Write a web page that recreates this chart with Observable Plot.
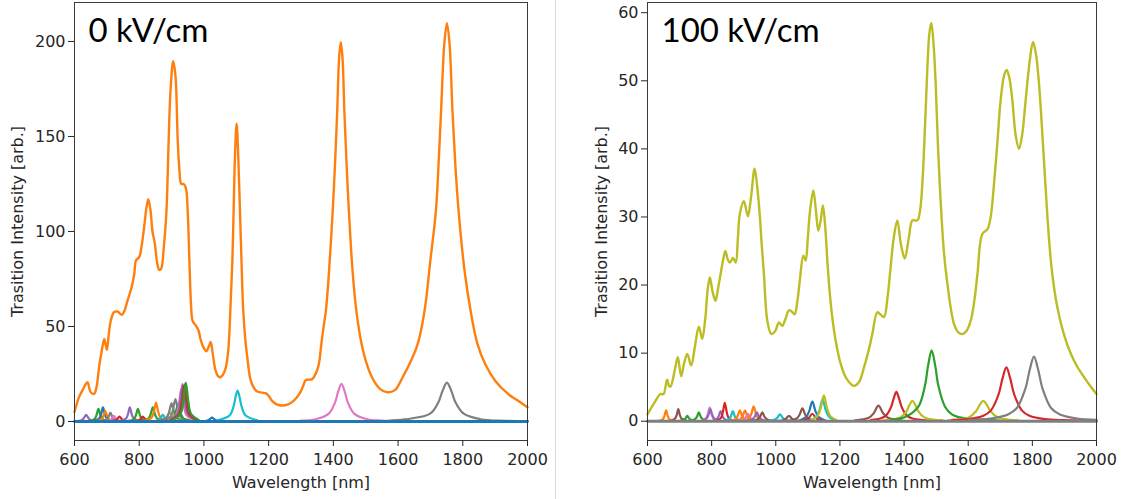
<!DOCTYPE html>
<html>
<head>
<meta charset="utf-8">
<script src="https://cdn.jsdelivr.net/npm/d3@7"></script>
<script src="https://cdn.jsdelivr.net/npm/@observablehq/plot@0.6"></script>
<style>
  html, body { margin: 0; padding: 0; background: #fff; }
  #wrap { position: relative; width: 1125px; height: 499px; overflow: hidden; background: #fff; }
  #left, #right { position: absolute; top: 0; }
  #left { left: 0; }
  #right { left: 556px; }
  #sep { position: absolute; left: 555px; top: 0; width: 1px; height: 499px; background: #d9d9d9; }
</style>
</head>
<body>
<div id="wrap"><div id="left"></div><div id="right"></div><div id="sep"></div></div>
<script>
// ---------- labels & ticks ----------
const panelTitles = ["0 kV/cm", "100 kV/cm"];
const xLabel = "Wavelength [nm]";
const yLabel = "Trasition Intensity [arb.]";
const xTicks = [600, 800, 1000, 1200, 1400, 1600, 1800, 2000];
const leftYTicks = [0, 50, 100, 150, 200];
const rightYTicks = [0, 10, 20, 30, 40, 50, 60];
const cycleNames = ["C0","C1","C2","C3","C4","C5","C6","C7","C8","C9"];
const tab10 = ["#1f77b4","#ff7f0e","#2ca02c","#d62728","#9467bd","#8c564b","#e377c2","#7f7f7f","#bcbd22","#17becf"];

// ---------- 0 kV/cm panel ----------
const left_total = [[600,5],[614,12.8],[628,17.5],[640,20.7],[650,15.4],[661,14.6],[668,18],[676,28.6],[685,38],[692,43.5],[700,37.7],[706,46],[712,53],[722,57.5],[733,57.9],[746,56.1],[755,58.5],[764,63.7],[772,68],[779,72.5],[785,78],[790,84.7],[800,86.5],[808,93],[815,102],[822,112],[828,117],[835,111],[841,100],[848,94],[856,83],[862,79.8],[868,80.5],[876,91.7],[884,110],[891,147.9],[897,175],[905,189.6],[912,182],[919,147.9],[924,133],[930,125],[937,125],[944,123],[950,110],[955,85],[960,62],[965,53],[975,50.5],[983,48],[990,43],[1000,38.5],[1008,37],[1015,39.5],[1021,41.8],[1027,36],[1035,27.5],[1043,24],[1050,23.3],[1058,24.5],[1067,28],[1075,37],[1082,60],[1088,85],[1092,112.8],[1096,140],[1101,156.7],[1106,140],[1111,112.8],[1116,85],[1121,60],[1128,43],[1134,33.8],[1144,22],[1155,17.5],[1165,15.8],[1180,15.2],[1192,14.8],[1200,13.5],[1210,11],[1225,9],[1242,8.4],[1260,9],[1278,11],[1295,14.5],[1305,18],[1314,21.6],[1322,22],[1335,22.3],[1345,25],[1355,30],[1363,41],[1370,50],[1377,58.4],[1387,80],[1398,111],[1405,135],[1412,163.7],[1418,192],[1423,199.6],[1428,192],[1434,163.7],[1441,135],[1448,111],[1459,80],[1471,58.4],[1487,41],[1500,32],[1520,23],[1545,17],[1566,15.4],[1590,16.5],[1614,23.3],[1640,32],[1661,41],[1682,58.4],[1700,85],[1717,111],[1725,135],[1733,163.7],[1743,199],[1751,209.6],[1759,199],[1768,163.7],[1777,135],[1787,111],[1805,80],[1824,58.4],[1845,41],[1870,30],[1900,21.5],[1940,14.5],[1970,11],[2000,7.5]];

const left_minor = [
  ["C4", [[601,0.1],[622,0.7],[629,1.8],[636,3.5],[643,1.8],[650,0.7],[671,0.1]]],
  ["C2", [[644,0.3],[662,1.3],[668,3.4],[674,6.7],[680,3.4],[686,1.3],[704,0.3]]],
  ["C0", [[658,0.3],[676,1.5],[682,3.7],[688,7.4],[694,3.7],[700,1.5],[718,0.3]]],
  ["C1", [[665,0.2],[683,1.1],[689,2.8],[695,5.6],[701,2.8],[707,1.1],[725,0.2]]],
  ["C7", [[681,0.2],[699,0.9],[705,2.4],[711,4.7],[717,2.4],[723,0.9],[741,0.2]]],
  ["C6", [[692,0.1],[710,0.6],[716,1.5],[722,3],[728,1.5],[734,0.6],[752,0.1]]],
  ["C3", [[704,0.1],[725,0.5],[732,1.3],[739,2.6],[746,1.3],[753,0.5],[774,0.1]]],
  ["C4", [[741,0.3],[759,1.5],[765,3.7],[771,7.4],[777,3.7],[783,1.5],[801,0.3]]],
  ["C2", [[766,0.3],[784,1.3],[790,3.4],[796,6.7],[802,3.4],[808,1.3],[826,0.3]]],
  ["C3", [[776,0.1],[797,0.5],[804,1.3],[811,2.6],[818,1.3],[825,0.5],[846,0.1]]],
  ["C2", [[807,0.3],[828,1.5],[835,3.7],[842,7.4],[849,3.7],[856,1.5],[877,0.3]]],
  ["C1", [[817,0.4],[838,2],[845,5],[852,10],[859,5],[866,2],[887,0.4]]],
  ["C9", [[838,0.1],[859,0.7],[866,1.8],[873,3.5],[880,1.8],[887,0.7],[908,0.1]]],
  ["C8", [[854,0.2],[878,0.9],[886,2.4],[894,4.7],[902,2.4],[910,0.9],[934,0.2]]],
  ["C7", [[860,0.4],[884,1.9],[892,4.8],[900,9.5],[908,4.8],[916,1.9],[940,0.4]]],
  ["C7", [[872,0.5],[896,2.4],[904,5.9],[912,11.8],[920,5.9],[928,2.4],[952,0.5]]],
  ["C2", [[880,0.4],[904,1.8],[912,4.5],[920,9],[928,4.5],[936,1.8],[960,0.4]]],
  ["C6", [[890,0.7],[914,3.4],[922,8.5],[930,17],[938,8.5],[946,3.4],[970,0.7]]],
  ["C4", [[894,0.8],[918,3.9],[926,9.9],[934,19.7],[942,9.9],[950,3.9],[974,0.8]]],
  ["C5", [[898,0.8],[922,3.8],[930,9.4],[938,18.8],[946,9.4],[954,3.8],[978,0.8]]],
  ["C3", [[901,0.8],[925,3.9],[933,9.8],[941,19.5],[949,9.8],[957,3.9],[981,0.8]]],
  ["C2", [[904,0.8],[928,4.1],[936,10.3],[944,20.5],[952,10.3],[960,4.1],[984,0.8]]],
  ["C0", [[980,0.1],[1007,0.4],[1016,1],[1025,2],[1034,1],[1043,0.4],[1070,0.1]]],
  ["C9", [[1044,0.7],[1080,3.3],[1092,8.2],[1098,13],[1104,16.3],[1110,13],[1116,8.2],[1128,3.3],[1164,0.7]]],
  ["C6", [[1300,0.5],[1345,1.2],[1385,4],[1405,9.9],[1415,15.8],[1425,19.8],[1435,15.8],[1445,9.9],[1465,4],[1505,1.2],[1550,0.5],[1600,0.3]]],
  ["C7", [[1570,0.4],[1620,1.1],[1699,4.1],[1725,10.3],[1738,16.4],[1751,20.5],[1764,16.4],[1777,10.3],[1803,4.1],[1855,1.2],[1930,0.4],[2000,0.2]]]
];
const left_baseline = [[600,0],[2000,0]];

// ---------- 100 kV/cm panel ----------
const right_total = [[600,1.0],[612,2.0],[625,3.0],[640,4.0],[650,4.0],[661,6.1],[667,5.2],[672,5.1],[685,7.5],[694.6,9.4],[705,6.6],[714,8.5],[724,9.9],[736,8.2],[748,11],[760,13.9],[770.6,12.1],[780,15],[788,19.5],[794.5,21.1],[803,19],[812,17.7],[820,19.5],[827.8,21.6],[835,23.5],[843,25],[850,23.8],[857,23.3],[867,24],[875,23.3],[882,27],[888,30.5],[900.6,32.3],[913,30.1],[923,33],[933.9,37.1],[943,34],[950.4,30],[956,26],[963,21.6],[973.5,14.8],[986,12.8],[998,13.2],[1009.7,14.5],[1020,14],[1030,15],[1041,16.3],[1050,16.1],[1058.7,15.7],[1067,17.5],[1075,20.7],[1085.8,24.3],[1093,23.6],[1100,27],[1106.5,30.8],[1117,33.9],[1125,31],[1132.6,28],[1140,29.5],[1147,31.7],[1155,28],[1160.7,23.6],[1168,19],[1176,15.3],[1188,11.5],[1202,8.5],[1220,6.3],[1243.7,5.2],[1260,5.8],[1275,7.9],[1290,10.5],[1301,12.8],[1316.7,16],[1328,15.6],[1337.5,15.3],[1348,18],[1358,22.6],[1368,27],[1379,29.5],[1390,26],[1402,23.9],[1415,27],[1426,29.5],[1441.5,29.5],[1450,31],[1457,34.9],[1465,43],[1472.7,52],[1479,57],[1485,58.5],[1491,56],[1498.6,49.5],[1506,40],[1514,32.4],[1524,25],[1535,20.2],[1555.7,14.3],[1570,13],[1582,12.8],[1595,13.3],[1608,14.8],[1620,18],[1629,21.7],[1644,27.5],[1660,28.2],[1670,30],[1680.5,34.9],[1691,41],[1701,47.1],[1712,50.8],[1720,51.6],[1728,50.5],[1737.7,47.1],[1748,42],[1758.5,40],[1768,42],[1779,47.1],[1792,53],[1802,55.7],[1811,54],[1820.8,49.5],[1834,40],[1847,30],[1860,22.5],[1878,16.7],[1900,12.5],[1920,9.9],[1940,8],[1961,6.5],[1980,5.2],[2000,4.0]];

const right_minor = [
  ["C1", [[638,0.1],[648,0.3],[653,0.8],[658,1.6],[663,0.8],[668,0.3],[683,0.1]]],
  ["C5", [[676,0.1],[686,0.4],[691,0.9],[696,1.8],[701,0.9],[706,0.4],[721,0.1]]],
  ["C2", [[700,0.05],[712,0.2],[718,0.4],[724,0.8],[730,0.4],[736,0.2],[748,0.05]]],
  ["C2", [[736,0.05],[748,0.3],[754,0.65],[760,1.3],[766,0.65],[772,0.3],[784,0.05]]],
  ["C6", [[770,0.1],[782,0.4],[788,1.0],[794,2.0],[800,1.0],[806,0.4],[818,0.1]]],
  ["C4", [[772,0.1],[784,0.4],[790,0.9],[796,1.8],[802,0.9],[808,0.4],[820,0.1]]],
  ["C4", [[804,0.1],[816,0.3],[822,0.75],[828,1.5],[834,0.75],[840,0.3],[852,0.1]]],
  ["C3", [[817,0.1],[829,0.5],[835,1.35],[841,2.7],[847,1.35],[853,0.5],[865,0.1]]],
  ["C9", [[842,0.1],[854,0.3],[860,0.75],[866,1.5],[872,0.75],[878,0.3],[890,0.1]]],
  ["C1", [[860,0.1],[874,0.3],[881,0.8],[888,1.6],[895,0.8],[902,0.3],[916,0.1]]],
  ["C1", [[876,0.1],[890,0.3],[897,0.8],[904,1.6],[911,0.8],[918,0.3],[932,0.1]]],
  ["C6", [[885,0.05],[899,0.2],[906,0.55],[913,1.1],[920,0.55],[927,0.2],[941,0.05]]],
  ["C1", [[903,0.1],[917,0.45],[924,1.1],[931,2.2],[938,1.1],[945,0.45],[959,0.1]]],
  ["C4", [[913,0.05],[927,0.3],[934,0.65],[941,1.3],[948,0.65],[955,0.3],[969,0.05]]],
  ["C5", [[930,0.05],[944,0.3],[951,0.65],[958,1.3],[965,0.65],[972,0.3],[986,0.05]]],
  ["C9", [[977,0.05],[995,0.2],[1004,0.5],[1013,1.0],[1022,0.5],[1031,0.2],[1049,0.05]]],
  ["C5", [[1005,0.05],[1023,0.15],[1032,0.4],[1041,0.8],[1050,0.4],[1059,0.15],[1077,0.05]]],
  ["C5", [[1047,0.1],[1065,0.4],[1074,0.95],[1083,1.9],[1092,0.95],[1101,0.4],[1119,0.1]]],
  ["C0", [[1074,0.1],[1094,0.6],[1104,1.45],[1114,2.9],[1124,1.45],[1134,0.6],[1154,0.1]]],
  ["C3", [[1074,0.05],[1094,0.2],[1104,0.55],[1114,1.1],[1124,0.55],[1134,0.2],[1154,0.05]]],
  ["C9", [[1106,0.1],[1126,0.65],[1136,1.6],[1146,3.2],[1156,1.6],[1166,0.65],[1186,0.1]]],
  ["C8", [[1110,0.15],[1130,0.75],[1140,1.9],[1150,3.8],[1160,1.9],[1170,0.75],[1190,0.15]]],
  ["C5", [[1245,0.1],[1290,0.5],[1305,1.15],[1320,2.3],[1335,1.15],[1350,0.5],[1395,0.1]]],
  ["C3", [[1296,0.17],[1328,0.43],[1344,0.86],[1360,2.15],[1368,3.4],[1376,4.3],[1384,3.4],[1392,2.15],[1408,0.86],[1424,0.43],[1456,0.17],[1520,0.08]]],
  ["C8", [[1336,0.12],[1372,0.3],[1390,0.6],[1408,1.5],[1417,2.4],[1426,3],[1435,2.4],[1444,1.5],[1462,0.6],[1480,0.3],[1516,0.12]]],
  ["C2", [[1360,0.3],[1402,0.6],[1444,2.1],[1465,5.2],[1475,8.2],[1486,10.4],[1497,8.2],[1507,5.2],[1528,2.1],[1549,1.0],[1570,0.6],[1612,0.3],[1700,0.1]]],
  ["C8", [[1537,0.12],[1581,0.3],[1603,0.6],[1625,1.5],[1636,2.4],[1647,3],[1658,2.4],[1669,1.5],[1691,0.6],[1713,0.3],[1757,0.12]]],
  ["C3", [[1550,0.2],[1600,0.3],[1647,0.8],[1671,1.6],[1695,4],[1707,6.3],[1719,7.9],[1731,6.3],[1743,4],[1767,1.6],[1791,0.8],[1839,0.3],[1900,0.15],[2000,0.1]]],
  ["C7", [[1600,0.2],[1670,0.4],[1724,1],[1751,1.9],[1778,4.75],[1792,7.6],[1805,9.5],[1818,7.6],[1832,4.75],[1859,1.9],[1886,1],[1940,0.4],[2000,0.2]]]
];
const right_baseline = [[600,0],[2000,0]];

// ---------- build tables ----------
function rows(id, cycle, pts) {
  return pts.map(([x, y]) => ({id, cycle, x, y}));
}
function minorRows(prefix, list) {
  return list.flatMap(([cycle, pts], i) => rows(prefix + i, cycle, pts));
}

const fontAxis = "DejaVu Sans, sans-serif";
const fontTitle = "Lato, 'Open Sans', sans-serif";
const axisSize = 16;

function panel({width, marginLeft, marginRight, yDomain, yTicks, total, totalCycle, minor, baseline, baseCycle, title, yLabelDx}) {
  return Plot.plot({
    width, height: 499,
    marginLeft, marginRight, marginTop: 2, marginBottom: 59,
    x: {domain: [600, 2000]},
    y: {domain: yDomain},
    color: {type: "ordinal", domain: cycleNames, range: tab10},
    style: {fontFamily: fontAxis, fontSize: axisSize + "px", color: "#262626", background: "transparent"},
    marks: [
      Plot.line(rows("total", totalCycle, total), {x: "x", y: "y", z: "id", stroke: "cycle", curve: "catmull-rom", strokeWidth: 2.4}),
      Plot.line(minor, {x: "x", y: "y", z: "id", stroke: "cycle", curve: "catmull-rom", strokeWidth: 2.2}),
      Plot.line(rows("base", baseCycle, baseline), {x: "x", y: "y", z: "id", stroke: "cycle", strokeWidth: 2.8}),
      Plot.frame({stroke: "#3a3a3a", strokeWidth: 1}),
      Plot.axisX({ticks: xTicks, tickSize: 6, tickPadding: 7, tickFormat: d3.format("d"), label: null, fontSize: axisSize}),
      Plot.axisY({ticks: yTicks, tickSize: 6, tickPadding: 3, tickFormat: d3.format("d"), label: null, fontSize: axisSize}),
      Plot.text([xLabel], {frameAnchor: "bottom", dy: 42, lineAnchor: "middle", textAnchor: "middle", text: d => d, fontSize: axisSize, fill: "#262626"}),
      Plot.text([yLabel], {frameAnchor: "left", dx: yLabelDx, rotate: -90, lineAnchor: "middle", textAnchor: "middle", text: d => d, fontSize: axisSize, fill: "#262626"}),
      Plot.text([title], {frameAnchor: "top-left", dx: 14, dy: 16, lineAnchor: "top", textAnchor: "start", text: d => d, fontSize: 33, fontFamily: fontTitle, fill: "#000"})
    ]
  });
}

document.getElementById("left").append(panel({
  width: 555, marginLeft: 74, marginRight: 28,
  yDomain: [-10, 220.5], yTicks: leftYTicks,
  total: left_total, totalCycle: "C1",
  minor: minorRows("L", left_minor),
  baseline: left_baseline, baseCycle: "C0",
  title: panelTitles[0], yLabelDx: -57
}));

document.getElementById("right").append(panel({
  width: 569, marginLeft: 91, marginRight: 29,
  yDomain: [-2.83, 61.5], yTicks: rightYTicks,
  total: right_total, totalCycle: "C8",
  minor: minorRows("R", right_minor),
  baseline: right_baseline, baseCycle: "C7",
  title: panelTitles[1], yLabelDx: -46
}));
</script>
</body>
</html>
